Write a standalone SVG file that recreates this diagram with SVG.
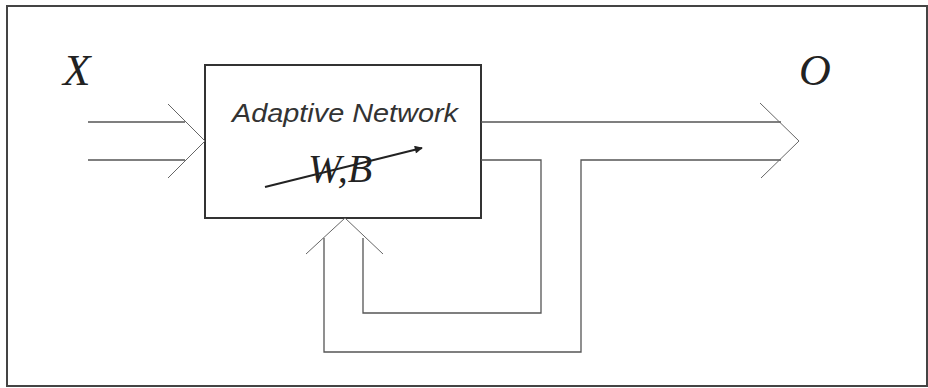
<svg xmlns="http://www.w3.org/2000/svg" width="928" height="388" viewBox="0 0 928 388">
<defs>
<style>
.frame{fill:none;stroke:#444;stroke-width:2}
.box{fill:none;stroke:#333;stroke-width:2}
.ln{fill:none;stroke:#555;stroke-width:1.3}
.chev{fill:none;stroke:#666;stroke-width:1}
.tm{font-family:"Liberation Serif","Times New Roman",serif;font-style:italic;fill:#222}
.ar{font-family:"Liberation Sans",Arial,sans-serif;font-style:italic;fill:#333}
</style>
<marker id="ah" viewBox="0 0 10 10" refX="9" refY="5" markerWidth="10" markerHeight="8" markerUnits="userSpaceOnUse" orient="auto">
<path d="M0,0 L10,5 L0,10 z" fill="#222"/>
</marker>
</defs>
<rect width="928" height="388" fill="#fff"/>
<rect class="frame" x="7" y="6" width="920" height="380"/>
<g id="label-X"><text class="tm" x="63" y="85" font-size="45">X</text></g>
<g id="label-O"><text class="tm" x="799" y="85" font-size="44">O</text></g>
<g id="adaptive-network">
<rect class="box" x="205" y="65" width="276" height="153"/>
<text class="ar" x="232" y="122" font-size="26" textLength="226" lengthAdjust="spacingAndGlyphs">Adaptive Network</text>
<text class="tm" x="308" y="182" font-size="40">W,B</text>
<line x1="265" y1="187" x2="422" y2="148" stroke="#222" stroke-width="2" marker-end="url(#ah)"/>
</g>
<g id="connectors">
<path class="ln" d="M88,122 H185 M88,160 H185"/>
<path class="chev" d="M168,104 L205,141 L168,178"/>
<path class="ln" d="M481,122 H781"/>
<path class="ln" d="M481,160 H541 V313 H363 V238"/>
<path class="ln" d="M781,160 H581 V352 H324 V238"/>
<path class="chev" d="M760,103 L799,141 L761,178"/>
<path class="chev" d="M306,254 L345,218 L383,254"/>
</g>
</svg>
